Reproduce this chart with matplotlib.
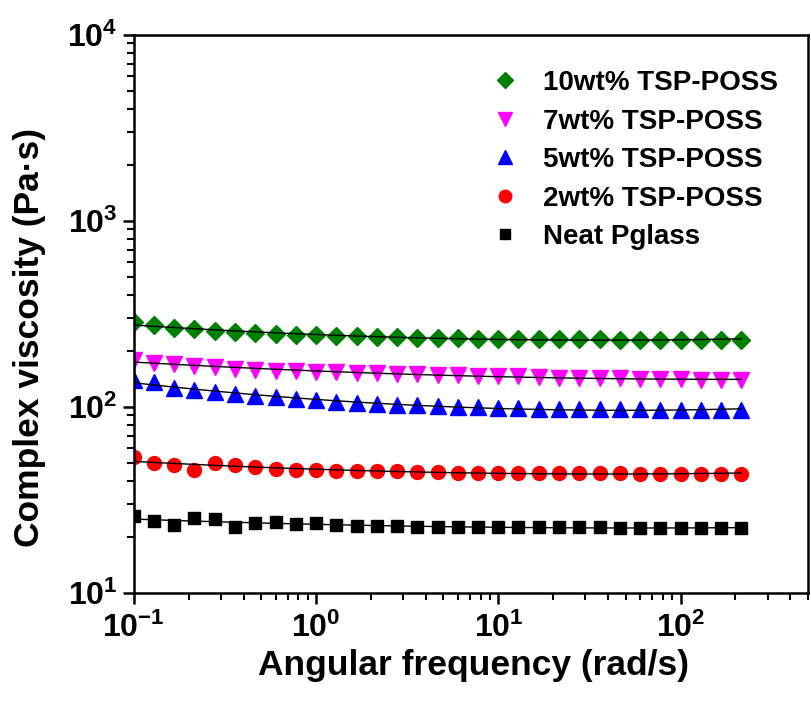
import numpy as np
import matplotlib
matplotlib.use("Agg")
import matplotlib.pyplot as plt
from matplotlib.ticker import LogLocator, FuncFormatter, NullFormatter

plt.rcParams["font.family"] = ["Liberation Sans", "DejaVu Sans"]
plt.rcParams["font.weight"] = "bold"
plt.rcParams["mathtext.fontset"] = "custom"
plt.rcParams["mathtext.rm"] = "Liberation Sans:bold"
plt.rcParams["mathtext.it"] = "Liberation Sans:bold"
plt.rcParams["mathtext.bf"] = "Liberation Sans:bold"

# angular frequency sweep (rad/s)
freq = [0.1, 0.129, 0.167, 0.215, 0.278, 0.359, 0.464, 0.599, 0.774,
        1.0, 1.29, 1.67, 2.15, 2.78, 3.59, 4.64, 5.99, 7.74,
        10.0, 12.9, 16.7, 21.5, 27.8, 35.9, 46.4, 59.9, 77.4,
        100.0, 129.0, 167.0, 215.0]

# complex viscosity (Pa*s)
wt10 = [287, 276, 267, 262, 256, 252, 249, 247, 245, 243, 241, 240, 238, 237, 236, 235,
        234, 233, 233, 232, 232, 231, 231, 231, 230, 230, 230, 229, 229, 229, 229]
wt7 = [180, 173, 170, 167, 164, 161, 159, 157, 156, 155, 154, 153, 152, 151, 150, 149,
       148, 147, 146, 146, 145, 144, 144, 143, 143, 142, 141, 141, 140, 140, 139]
wt5 = [140, 136, 126, 123, 120, 118, 114, 113, 111, 109, 107, 105, 104, 103, 102, 101,
       100, 100, 99, 99, 98, 98, 97, 97, 97, 97, 96, 96, 96, 96, 96]
wt2 = [54, 50, 49, 46, 50, 49, 47.5, 46.5, 46, 46, 45.5, 45.2, 45, 45, 44.8, 44.6,
       44.4, 44.3, 44.2, 44.2, 44.1, 44.0, 44.0, 43.9, 43.9, 43.8, 43.8, 43.7, 43.7, 43.6, 43.6]
neat = [25.8, 24.5, 23.3, 25.3, 25.0, 22.5, 23.9, 24.0, 23.4, 23.9, 23.2, 23.0, 23.0, 22.8,
        22.7, 22.7, 22.7, 22.6, 22.6, 22.6, 22.5, 22.5, 22.5, 22.5, 22.4, 22.4, 22.4, 22.4,
        22.4, 22.3, 22.3]

series = [
    (wt10, "10wt% TSP-POSS", "#008000", "D", 9.5),
    (wt7, "7wt% TSP-POSS", "#ff00ff", "v", 11),
    (wt5, "5wt% TSP-POSS", "#0000ff", "^", 11),
    (wt2, "2wt% TSP-POSS", "#ff0000", "o", 10),
    (neat, "Neat Pglass", "#000000", "s", 8.5),
]

fig = plt.figure(figsize=(8.11, 7.14), dpi=100)
ax = fig.add_axes([0.165, 0.1695, 0.8313, 0.7815])

x = np.array(freq)
for vals, label, color, marker, ms in series:
    y = np.array(vals, dtype=float)
    ax.plot(x, y, linestyle="none", marker=marker, ms=ms, color=color,
            mec=color, label=label, zorder=2)
    # smooth fit in log-log space
    c = np.polyfit(np.log10(x), np.log10(y), 2)
    ax.plot(x, 10 ** np.polyval(c, np.log10(x)), color="black", lw=1.0, zorder=3)

ax.set_xscale("log")
ax.set_yscale("log")
ax.set_xlim(0.1, 500)
ax.set_ylim(10, 1e4)

fmt = FuncFormatter(lambda v, p: r"$10^{%d}$" % round(np.log10(v)))
for axis in (ax.xaxis, ax.yaxis):
    axis.set_major_locator(LogLocator(base=10))
    axis.set_minor_locator(LogLocator(base=10, subs=np.arange(2, 10), numticks=20))
    axis.set_major_formatter(fmt)
    axis.set_minor_formatter(NullFormatter())

ax.tick_params(which="major", direction="out", length=8, width=1.8, labelsize=23, pad=4)
ax.tick_params(which="minor", direction="out", length=5, width=1.5)
ax.tick_params(axis="x", which="major", pad=6)
for sp in ax.spines.values():
    sp.set_linewidth(1.8)

ax.set_xlabel("Angular frequency (rad/s)", fontsize=25.5, fontweight="bold")
ax.set_ylabel("Complex viscosity (Pa·s)", fontsize=25.5, fontweight="bold")
ax.xaxis.set_label_coords(0.504, -0.10)
ax.yaxis.set_label_coords(-0.13, 0.457)

leg = ax.legend(loc="upper left", bbox_to_anchor=(0.51, 0.962), frameon=False,
                fontsize=20, handlelength=1.0, handletextpad=0.85,
                labelspacing=0.45, borderpad=0, markerscale=0.9)

fig.savefig("out.png", dpi=100)
